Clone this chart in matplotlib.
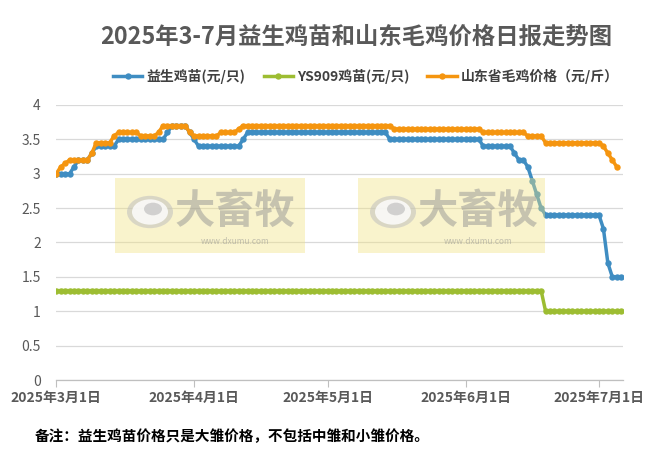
import numpy as np
import pandas as pd
import matplotlib
matplotlib.use("Agg")
import matplotlib.pyplot as plt
import matplotlib.dates as mdates
from matplotlib.patches import Rectangle, Circle
from matplotlib.lines import Line2D

plt.rcParams['font.family'] = ['Noto Sans CJK SC', 'DejaVu Sans']

# ---------------- data ----------------
start_date = "2025-03-01"
n_days = 128
series_names = ["益生鸡苗(元/只)", "YS909鸡苗(元/只)", "山东省毛鸡价格（元/斤）"]

yisheng = [
    3.0, 3.0, 3.0, 3.0, 3.1, 3.2, 3.2, 3.2, 3.3, 3.4,
    3.4, 3.4, 3.4, 3.4, 3.5, 3.5, 3.5, 3.5, 3.5, 3.5,
    3.5, 3.5, 3.5, 3.5, 3.5, 3.6, 3.7, 3.7, 3.7, 3.7,
    3.6, 3.5, 3.4, 3.4, 3.4, 3.4, 3.4, 3.4, 3.4, 3.4,
    3.4, 3.4, 3.5, 3.6, 3.6, 3.6, 3.6, 3.6, 3.6, 3.6,
    3.6, 3.6, 3.6, 3.6, 3.6, 3.6, 3.6, 3.6, 3.6, 3.6,
    3.6, 3.6, 3.6, 3.6, 3.6, 3.6, 3.6, 3.6, 3.6, 3.6,
    3.6, 3.6, 3.6, 3.6, 3.6, 3.5, 3.5, 3.5, 3.5, 3.5,
    3.5, 3.5, 3.5, 3.5, 3.5, 3.5, 3.5, 3.5, 3.5, 3.5,
    3.5, 3.5, 3.5, 3.5, 3.5, 3.5, 3.4, 3.4, 3.4, 3.4,
    3.4, 3.4, 3.4, 3.3, 3.2, 3.2, 3.1, 2.9, 2.7, 2.5,
    2.4, 2.4, 2.4, 2.4, 2.4, 2.4, 2.4, 2.4, 2.4, 2.4,
    2.4, 2.4, 2.4, 2.2, 1.7, 1.5, 1.5, 1.5,
]

ys909 = [
    1.3, 1.3, 1.3, 1.3, 1.3, 1.3, 1.3, 1.3, 1.3, 1.3,
    1.3, 1.3, 1.3, 1.3, 1.3, 1.3, 1.3, 1.3, 1.3, 1.3,
    1.3, 1.3, 1.3, 1.3, 1.3, 1.3, 1.3, 1.3, 1.3, 1.3,
    1.3, 1.3, 1.3, 1.3, 1.3, 1.3, 1.3, 1.3, 1.3, 1.3,
    1.3, 1.3, 1.3, 1.3, 1.3, 1.3, 1.3, 1.3, 1.3, 1.3,
    1.3, 1.3, 1.3, 1.3, 1.3, 1.3, 1.3, 1.3, 1.3, 1.3,
    1.3, 1.3, 1.3, 1.3, 1.3, 1.3, 1.3, 1.3, 1.3, 1.3,
    1.3, 1.3, 1.3, 1.3, 1.3, 1.3, 1.3, 1.3, 1.3, 1.3,
    1.3, 1.3, 1.3, 1.3, 1.3, 1.3, 1.3, 1.3, 1.3, 1.3,
    1.3, 1.3, 1.3, 1.3, 1.3, 1.3, 1.3, 1.3, 1.3, 1.3,
    1.3, 1.3, 1.3, 1.3, 1.3, 1.3, 1.3, 1.3, 1.3, 1.3,
    1.0, 1.0, 1.0, 1.0, 1.0, 1.0, 1.0, 1.0, 1.0, 1.0,
    1.0, 1.0, 1.0, 1.0, 1.0, 1.0, 1.0, 1.0,
]

maoji = [
    3.0, 3.1, 3.15, 3.2, 3.2, 3.2, 3.2, 3.2, 3.3, 3.45,
    3.45, 3.45, 3.45, 3.55, 3.6, 3.6, 3.6, 3.6, 3.6, 3.55,
    3.55, 3.55, 3.55, 3.6, 3.7, 3.7, 3.7, 3.7, 3.7, 3.7,
    3.6, 3.55, 3.55, 3.55, 3.55, 3.55, 3.55, 3.6, 3.6, 3.6,
    3.6, 3.65, 3.7, 3.7, 3.7, 3.7, 3.7, 3.7, 3.7, 3.7,
    3.7, 3.7, 3.7, 3.7, 3.7, 3.7, 3.7, 3.7, 3.7, 3.7,
    3.7, 3.7, 3.7, 3.7, 3.7, 3.7, 3.7, 3.7, 3.7, 3.7,
    3.7, 3.7, 3.7, 3.7, 3.7, 3.7, 3.65, 3.65, 3.65, 3.65,
    3.65, 3.65, 3.65, 3.65, 3.65, 3.65, 3.65, 3.65, 3.65, 3.65,
    3.65, 3.65, 3.65, 3.65, 3.65, 3.65, 3.6, 3.6, 3.6, 3.6,
    3.6, 3.6, 3.6, 3.6, 3.6, 3.6, 3.55, 3.55, 3.55, 3.55,
    3.45, 3.45, 3.45, 3.45, 3.45, 3.45, 3.45, 3.45, 3.45, 3.45,
    3.45, 3.45, 3.45, 3.4, 3.3, 3.2, 3.1, np.nan,
]

tick_dates = ["2025-03-01", "2025-04-01", "2025-05-01", "2025-06-01", "2025-07-01"]
tick_labels = ["2025年3月1日", "2025年4月1日", "2025年5月1日", "2025年6月1日", "2025年7月1日"]
y_ticks = [0, 0.5, 1, 1.5, 2, 2.5, 3, 3.5, 4]
y_tick_labels = ["0", "0.5", "1", "1.5", "2", "2.5", "3", "3.5", "4"]

title = "2025年3-7月益生鸡苗和山东毛鸡价格日报走势图"
note = "备注：益生鸡苗价格只是大雏价格，不包括中雏和小雏价格。"

# ---------------- style ----------------
c_blue = "#3f8dc2"
c_green = "#9dbd32"
c_orange = "#f5950f"
grey_txt = "#595959"

W, H = 661, 465
fig = plt.figure(figsize=(W / 100, H / 100), dpi=100)
fig.patch.set_facecolor("white")

ax_l, ax_r, ax_t, ax_b = 56, 623, 105, 380
ax = fig.add_axes([ax_l / W, 1 - ax_b / H, (ax_r - ax_l) / W, (ax_b - ax_t) / H])

dates = pd.date_range(start_date, periods=n_days, freq="D")
x = mdates.date2num(dates.to_pydatetime())

kw = dict(marker="o", markersize=4.6, linewidth=2.5, markeredgewidth=0)
ax.plot(x, yisheng, color=c_blue, zorder=3, **kw)
ax.plot(x, ys909, color=c_green, zorder=4, **kw)
ax.plot(x, maoji, color=c_orange, zorder=5, **kw)

ax.set_xlim(x[0] - 0.05, x[-1] + 0.4)
ax.set_ylim(0, 4)
ax.set_yticks(y_ticks)
ax.set_yticklabels(y_tick_labels, color=grey_txt, fontsize=10)
ax.tick_params(axis="y", length=0, pad=11)

tx = mdates.date2num(pd.to_datetime(tick_dates).to_pydatetime())
ax.set_xticks(tx)
ax.set_xticklabels(tick_labels, color=grey_txt, fontsize=10, fontweight="bold")
ax.tick_params(axis="x", length=5, width=0.8, color="#bfbfbf", direction="out", pad=3)

ax.grid(axis="y", color="#d9d9d9", linewidth=0.9)
ax.set_axisbelow(True)
for s in ["top", "right", "left"]:
    ax.spines[s].set_visible(False)
ax.spines["bottom"].set_color("#bfbfbf")
ax.spines["bottom"].set_linewidth(0.9)

# ---------------- title, legend, note ----------------
fig.text(356 / W, 1 - 37 / H, title, ha="center", va="center", fontsize=16.8,
         fontweight="bold", color=grey_txt)

handles = [
    Line2D([], [], color=c_blue, **kw),
    Line2D([], [], color=c_green, **kw),
    Line2D([], [], color=c_orange, **kw),
]
fig.legend(handles, series_names, loc="center", bbox_to_anchor=(366 / W, 1 - 76 / H),
           ncol=3, frameon=False, handlelength=2.1, handletextpad=0.3,
           columnspacing=1.3, prop={"size": 10, "weight": "bold"},
           labelcolor="#404040")

fig.text(35 / W, 1 - 436 / H, note, ha="left", va="center", fontsize=10.5,
         fontweight="bold", color="black")

# ---------------- watermarks ----------------
for bx0, bx1 in [(115, 305), (358, 545)]:
    rect = Rectangle((bx0 / W, 1 - 253 / H), (bx1 - bx0) / W, 75 / H,
                     transform=fig.transFigure, facecolor=(0.95, 0.89, 0.5),
                     alpha=0.4, edgecolor="none", zorder=10)
    fig.add_artist(rect)
    cx, cy = bx0 + 35, 212
    ring = Circle((cx / W, 1 - cy / H), 23 / W, transform=fig.transFigure,
                  facecolor=(0.75, 0.75, 0.75), alpha=0.55, edgecolor="none", zorder=11)
    fig.add_artist(ring)
    inner = Circle((cx / W, 1 - cy / H), 18 / W, transform=fig.transFigure,
                   facecolor="white", alpha=0.8, edgecolor="none", zorder=12)
    fig.add_artist(inner)
    dot = Circle(((cx + 3) / W, 1 - (cy - 3) / H), 9 / W, transform=fig.transFigure,
                 facecolor=(0.72, 0.72, 0.72), alpha=0.6, edgecolor="none", zorder=13)
    fig.add_artist(dot)
    fig.text((bx0 + 120) / W, 1 - 211 / H, "大畜牧", ha="center", va="center",
             fontsize=29, fontweight="bold", color=(0.58, 0.58, 0.58), alpha=0.5, zorder=14)
    fig.text((bx0 + 120) / W, 1 - 241 / H, "www.dxumu.com", ha="center", va="center",
             fontsize=6, color=(0.55, 0.55, 0.55), alpha=0.5, zorder=14)

fig.savefig("out.png", dpi=100, facecolor="white")
